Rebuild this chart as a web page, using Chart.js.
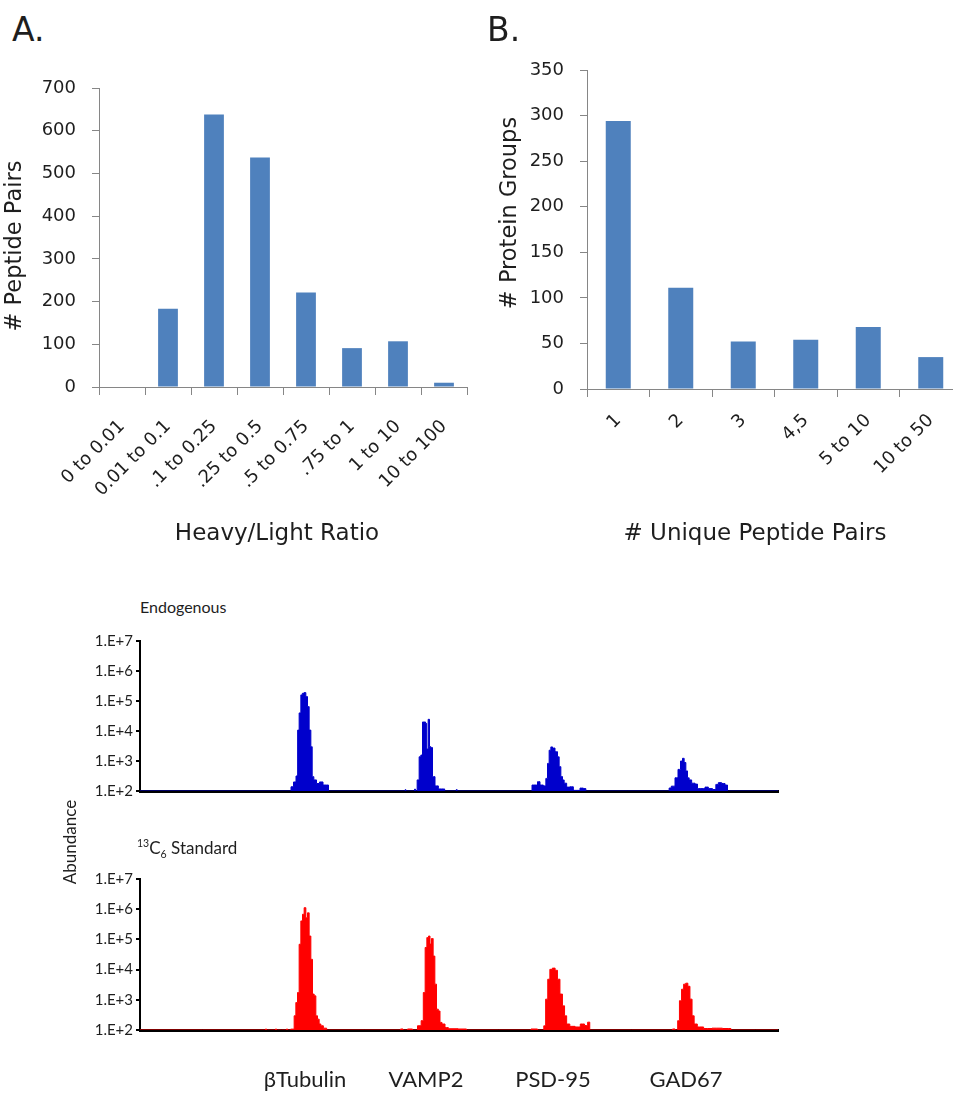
<!DOCTYPE html>
<html>
<head>
<meta charset="utf-8">
<script src="https://cdn.jsdelivr.net/npm/chart.js@4.4.1/dist/chart.umd.min.js"></script>
<style>
  html, body { margin: 0; padding: 0; background: #fff; width: 953px; height: 1093px; overflow: hidden; }
  canvas { position: absolute; }
  .t { position: absolute; white-space: nowrap; color: #1e1e1e; }
  .dv { font-family: 'DejaVu Sans', sans-serif; }
  .lt { font-family: 'Lato', sans-serif; }
  .rot { text-align: center; transform: rotate(-90deg); }
  sup, sub { font-size: 62%; line-height: 0; }
</style>
</head>
<body>

<canvas id="ratioChart" width="476" height="480" style="left:0;top:60px"></canvas>
<canvas id="pairsChart" width="500" height="500" style="left:476px;top:40px"></canvas>
<canvas id="endoChart" width="740" height="190" style="left:60px;top:620px"></canvas>
<canvas id="stdChart" width="740" height="233" style="left:60px;top:860px"></canvas>

<div class="t dv" style="left:12px;top:13px;font-size:33px;line-height:33px">A.</div>
<div class="t dv" style="left:487px;top:13px;font-size:33px;line-height:33px">B.</div>

<div class="t dv rot" style="left:-87px;top:233px;width:200px;height:26px;line-height:26px;font-size:22.5px"># Peptide Pairs</div>
<div class="t dv" style="left:77px;top:519px;width:400px;text-align:center;line-height:26px;font-size:23px">Heavy/Light Ratio</div>
<div class="t dv rot" style="left:408px;top:200px;width:200px;height:26px;line-height:26px;font-size:22.5px"># Protein Groups</div>
<div class="t dv" style="left:555px;top:519px;width:400px;text-align:center;line-height:26px;font-size:23px"># Unique Peptide Pairs</div>

<div class="t lt" style="left:140px;top:598px;font-size:16px;line-height:18px">Endogenous</div>
<div class="t lt" style="left:137px;top:838px;font-size:17px;line-height:20px"><sup>13</sup>C<sub>6</sub> Standard</div>
<div class="t lt rot" style="left:10px;top:832px;width:120px;height:20px;line-height:20px;font-size:17px">Abundance</div>

<script>
// ---- Panel A: peptide pairs per heavy/light ratio bin ----
const ratioBins = ['0 to 0.01', '0.01 to 0.1', '.1 to 0.25', '.25 to 0.5', '.5 to 0.75', '.75 to 1', '1 to 10', '10 to 100'];
const peptidePairs = [0, 183, 638, 537, 221, 91, 107, 10];
const peptideTicks = [0, 100, 200, 300, 400, 500, 600, 700];

// ---- Panel B: protein groups per number of unique peptide pairs ----
const uniqueBins = ['1', '2', '3', '4,5', '5 to 10', '10 to 50'];
const proteinGroups = [294, 111, 52, 54, 68, 35];
const proteinTicks = [0, 50, 100, 150, 200, 250, 300, 350];

// ---- Extracted ion traces (time in min, abundance in counts) ----
const abundanceTicks = [1e2, 1e3, 1e4, 1e5, 1e6, 1e7];
const abundanceTickLabels = ['1.E+2', '1.E+3', '1.E+4', '1.E+5', '1.E+6', '1.E+7'];
const proteinNames = ['\u03B2Tubulin', 'VAMP2', 'PSD-95', 'GAD67'];
const proteinLabelTimes = [16.5, 28.6, 41.3, 54.6];

// endogenous (light) peptides: βTubulin, VAMP2, PSD-95, GAD67 elution windows
const endoTime = [
  0,
  15.0, 15.2, 15.5, 15.7, 15.83, 16.0, 16.17, 16.3, 16.5, 16.67, 16.83, 17.0, 17.17, 17.27, 17.5, 17.8, 18.1, 18.5, 18.8, 18.9,
  26.5, 26.55, 26.6, 27.4, 27.5, 27.6, 27.83, 28.0, 28.17, 28.33, 28.5, 28.6, 28.73, 28.9, 29.0, 29.17, 29.33, 29.67, 30.0, 30.33, 30.6, 31.6, 31.67, 31.75,
  39.07, 39.33, 39.67, 39.83, 40.17, 40.5, 40.67, 40.83, 41.0, 41.17, 41.33, 41.67, 41.83, 42.0, 42.17, 42.33, 42.5, 42.83, 43.17, 43.5, 43.83, 44.17, 44.5, 44.67,
  52.9, 52.93, 53.33, 53.67, 53.93, 54.17, 54.33, 54.5, 54.67, 54.83, 55.0, 55.33, 55.67, 55.83, 56.33, 56.67, 57.0, 57.5, 57.67, 58.0, 58.33, 58.67, 58.83, 63.8
];
const endoAbundance = [
  100,
  100, 138, 200, 316, 10700, 40000, 160000, 180000, 190000, 140000, 65000, 10700, 3000, 300, 234, 178, 200, 158, 158, 100,
  100, 112, 100, 100, 115, 100, 234, 1380, 1580, 20000, 20000, 18000, 2500, 24500, 3000, 2800, 300, 148, 117, 117, 100, 100, 112, 100,
  100, 158, 158, 204, 158, 148, 263, 832, 2290, 2950, 2700, 2040, 1380, 646, 302, 234, 182, 135, 138, 105, 105, 125, 120, 100,
  100, 126, 145, 275, 525, 1000, 1230, 891, 468, 275, 234, 182, 170, 120, 120, 135, 120, 112, 166, 190, 178, 158, 100, 100
];

// 13C6-labelled standard peptides, same four proteins
const stdTime = [
  0, 12.5, 12.6, 12.7, 13.5, 13.6, 13.7, 14.6, 14.7, 14.8,
  15.33, 15.5, 15.67, 15.83, 16.0, 16.17, 16.33, 16.5, 16.67, 16.83, 17.0, 17.17, 17.33, 17.5, 17.67, 17.83, 18.0, 18.17, 18.5, 18.83,
  26.0, 26.1, 26.5, 27.0, 27.5, 28.0, 28.23, 28.43, 28.6, 28.77, 28.93, 29.07, 29.23, 29.4, 29.57, 29.73, 29.93, 30.07, 30.33, 30.67, 31.0, 32.6, 32.7,
  39.0, 39.2, 40.3, 40.46, 40.67, 40.88, 41.09, 41.38, 41.64, 41.85, 42.14, 42.35, 42.56, 42.77, 43.19, 43.82, 44.24, 44.66, 44.87, 45.08,
  53.2, 53.3, 53.7, 53.84, 54.05, 54.26, 54.47, 54.68, 54.89, 55.1, 55.31, 55.52, 55.94, 56.78, 57.62, 58.88, 59.3, 63.8
];
const stdAbundance = [
  100, 100, 108, 100, 100, 108, 100, 100, 108, 100,
  107, 295, 813, 1740, 69000, 410000, 680000, 1120000, 520000, 760000, 129000, 21900, 1550, 1350, 295, 229, 158, 138, 115, 100,
  100, 108, 100, 108, 100, 138, 204, 1740, 54000, 115000, 129000, 70000, 107000, 28000, 3300, 490, 427, 178, 158, 120, 110, 108, 100,
  100, 108, 100, 138, 1050, 4800, 10200, 11200, 9500, 4800, 1550, 631, 295, 158, 132, 126, 158, 141, 182, 100,
  100, 108, 100, 204, 933, 2240, 3300, 3550, 2800, 1050, 295, 158, 126, 112, 115, 112, 100, 100
];

const TIME_MAX = 63.8;

// ---- styling ----
const BAR_BLUE = '#4F81BD';
const AXIS_GREY = '#868686';
const TEXT = '#1e1e1e';

Chart.defaults.animation = false;
Chart.defaults.responsive = false;
Chart.defaults.plugins.legend.display = false;
Chart.defaults.plugins.tooltip.enabled = false;

function histogram(id, labels, values, ticks, cfg) {
  return new Chart(document.getElementById(id), {
    type: 'bar',
    data: {
      labels: labels,
      datasets: [{ data: values, backgroundColor: BAR_BLUE, categoryPercentage: 1, barPercentage: cfg.barFrac }]
    },
    options: {
      layout: { padding: { left: 0, top: cfg.top, right: cfg.right, bottom: 0 } },
      scales: {
        x: {
          grid: { drawOnChartArea: false, offset: true, tickLength: 8, color: AXIS_GREY },
          border: { color: AXIS_GREY },
          ticks: {
            autoSkip: false, maxRotation: 45, minRotation: 45, padding: cfg.labelPad,
            font: { family: 'DejaVu Sans', size: 18 }, color: TEXT
          },
          // fixed band under the plot; slanted labels may hang past the edges
          afterFit: s => { s.height = cfg.xHeight; s.paddingLeft = 0; s.paddingRight = 0; }
        },
        y: {
          min: ticks[0], max: ticks[ticks.length - 1],
          afterBuildTicks: s => { s.ticks = ticks.map(v => ({ value: v })); },
          grid: { drawOnChartArea: false, tickLength: 7, color: AXIS_GREY },
          border: { color: AXIS_GREY },
          ticks: { padding: 16, font: { family: 'DejaVu Sans', size: 18 }, color: TEXT },
          afterFit: s => { s.width = cfg.yWidth; }
        }
      }
    }
  });
}

function trace(id, times, values, color, cfg) {
  const points = times.map((t, i) => ({ x: t, y: values[i] }));
  return new Chart(document.getElementById(id), {
    type: 'line',
    data: {
      datasets: [{
        data: points, borderColor: color, backgroundColor: color, borderWidth: 1,
        pointRadius: 0, fill: 'start', tension: 0, stepped: 'middle'
      }]
    },
    options: {
      layout: { padding: { left: 0, top: cfg.top, right: cfg.right, bottom: 0 } },
      scales: {
        x: {
          type: 'linear', min: 0, max: TIME_MAX, z: 1,
          grid: { display: false },
          border: { color: '#000', width: 3 },
          afterBuildTicks: s => { s.ticks = proteinLabelTimes.map(v => ({ value: v })); },
          ticks: {
            display: cfg.showNames, autoSkip: false, maxRotation: 0, padding: cfg.namePad,
            font: { family: 'Lato', size: 22 }, color: TEXT,
            callback: (v, i) => proteinNames[i]
          },
          afterFit: s => { s.height = cfg.xHeight; s.paddingLeft = 0; s.paddingRight = 0; }
        },
        y: {
          type: 'logarithmic', min: abundanceTicks[0], max: abundanceTicks[abundanceTicks.length - 1],
          afterBuildTicks: s => { s.ticks = abundanceTicks.map(v => ({ value: v })); },
          grid: { drawOnChartArea: false, tickLength: 4, lineWidth: 2, color: '#000' },
          border: { color: '#000', width: 2 },
          ticks: {
            padding: 3, font: { family: 'Lato', size: 15 }, color: TEXT,
            callback: (v, i) => abundanceTickLabels[i]
          },
          afterFit: s => { s.width = cfg.yWidth; }
        }
      }
    }
  });
}

histogram('ratioChart', ratioBins, peptidePairs, peptideTicks,
  { barFrac: 0.43, top: 28, right: 9, xHeight: 153, yWidth: 99, labelPad: 21 });
histogram('pairsChart', uniqueBins, proteinGroups, proteinTicks,
  { barFrac: 0.40, top: 30, right: 14, xHeight: 151, yWidth: 111, labelPad: 13 });

trace('endoChart', endoTime, endoAbundance, '#0000cc',
  { top: 21, right: 22, xHeight: 19, yWidth: 80, showNames: false, namePad: 0 });
trace('stdChart', stdTime, stdAbundance, '#ff0000',
  { top: 19, right: 22, xHeight: 63, yWidth: 80, showNames: true, namePad: 29 });
</script>
</body>
</html>
